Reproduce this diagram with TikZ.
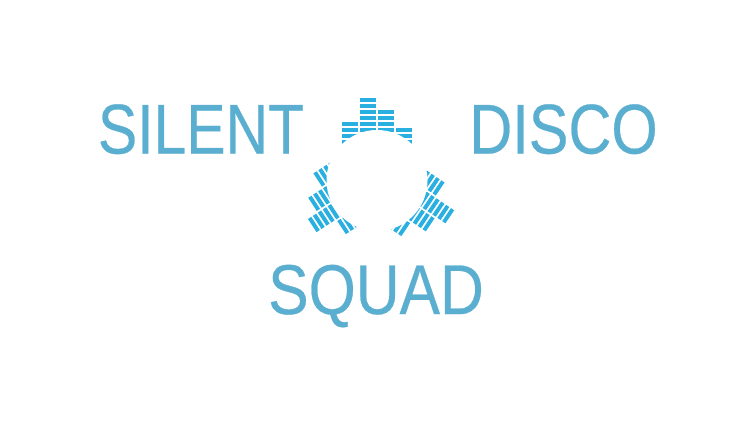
\documentclass[tikz,border=0pt]{standalone}
\usepackage{fontspec}
\setmainfont{Liberation Sans}[FakeBold=0.4]
\definecolor{wordblue}{HTML}{5AAFD0}
\definecolor{barblue}{HTML}{29B0E0}
\tikzset{
  word/.style={text=wordblue,inner sep=0pt,font=\fontsize{70.5}{70.5}\selectfont,anchor=base,xscale=.835},
  barcell/.style={fill=barblue,draw=none}
}
\newcommand{\barh}{4}
\newcommand{\eqcol}[3]{%
  \foreach \r in {0,...,#3}{%
    \fill[barcell] (#1,{#2+6*\r}) rectangle ++(16,\barh);}}
\newcommand{\eqgroup}{%
  \eqcol{-36}{-58}{4}%
  \eqcol{-18}{-82}{8}%
  \eqcol{0}{-70}{6}%
  \eqcol{18}{-52}{3}}
\begin{document}
\begin{tikzpicture}[x=1pt,y=-1pt]
\useasboundingbox (0,0) rectangle (754,423);
\fill[white] (0,0) rectangle (754,423);
\node[word] (silent) at (201,153.5) {SILENT};
\node[word,xscale=1.01] (disco) at (563.5,153.5) {DISCO};
\node[word,xscale=1.03] (squad) at (376,314) {SQUAD};
\begin{scope}[shift={(377.7,180)}]
  \eqgroup
  \begin{scope}[shift={(-3.4,-6.4)},rotate=123,scale=.98]\eqgroup\end{scope}
  \begin{scope}[rotate=-124,scale=.98]\eqgroup\end{scope}
\end{scope}
\fill[white] (377,180.5) circle (50.5);
\end{tikzpicture}
\end{document}
